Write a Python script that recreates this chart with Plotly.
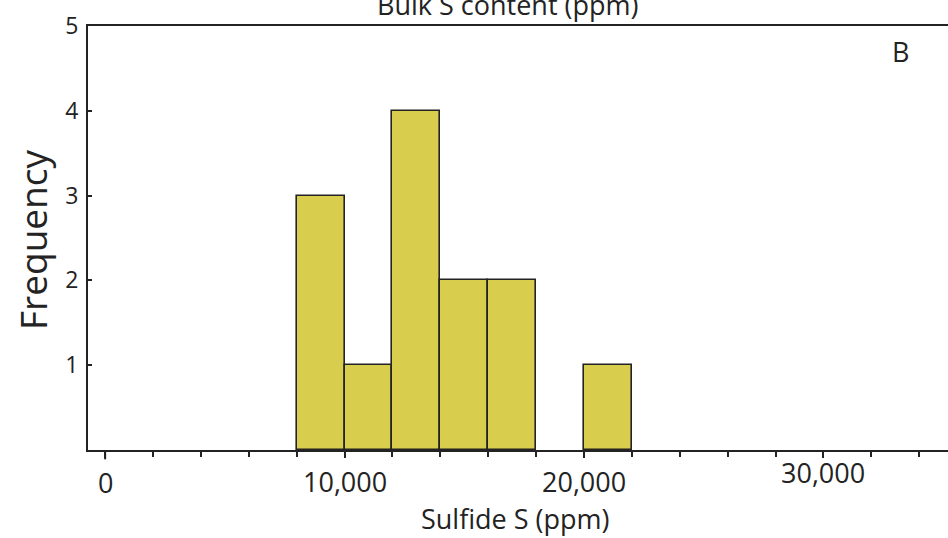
import plotly.graph_objects as go

# Histogram of sulfide S: bin left edges (ppm), bin width and counts
bin_left = [8000, 10000, 12000, 14000, 16000, 18000, 20000]
bin_width = 2000
counts = [3, 1, 4, 2, 2, 0, 1]

x_label_vals = [0, 10000, 20000, 30000]
x_label_text = ["0", "10,000", "20,000", "30,000"]
y_tick_vals = [1, 2, 3, 4, 5]

FONT = "Open Sans"
INK = "#232323"
BAR = "#d9cd4d"

centers = [b + bin_width / 2 for b in bin_left]
# empty bins get no outline
edge_widths = [1.6 if c > 0 else 0 for c in counts]

fig = go.Figure()
fig.add_trace(go.Bar(
    x=centers, y=counts, width=bin_width,
    marker=dict(color=BAR, line=dict(color=INK, width=edge_widths)),
    showlegend=False, hoverinfo="skip",
))

fig.update_layout(
    width=948, height=538,
    margin=dict(l=88, r=0, t=26, b=88),
    paper_bgcolor="white", plot_bgcolor="white",
    font=dict(family=FONT, color=INK),
    bargap=0,
    xaxis=dict(
        range=[-716, 35200],
        showline=True, linecolor=INK, linewidth=2, mirror=True,
        showgrid=False, zeroline=False,
        tickmode="array", tickvals=x_label_vals, ticktext=[""] * len(x_label_vals),
        ticks="outside", ticklen=6, tickwidth=1.5, tickcolor=INK,
        minor=dict(dtick=2000, tick0=0, ticks="outside", ticklen=5,
                   tickwidth=1.5, tickcolor=INK),
    ),
    yaxis=dict(
        range=[0, 5],
        showline=True, linecolor=INK, linewidth=2,
        showgrid=False, zeroline=False,
        tickmode="array", tickvals=y_tick_vals,
        ticks="inside", ticklen=4, tickwidth=1.5, tickcolor=INK,
        tickfont=dict(size=23, family=FONT, color=INK),
        ticklabelstandoff=3,
    ),
)

# x tick labels
label_shift = [-32, -31, -31, -22]
for v, t, dy in zip(x_label_vals, x_label_text, label_shift):
    fig.add_annotation(x=v, xref="x", y=0, yref="paper", yanchor="middle",
                       text=t, showarrow=False, yshift=dy,
                       font=dict(size=27, family=FONT, color=INK))

# longer tick at zero
fig.add_shape(type="line", xref="x", yref="paper", x0=0, x1=0,
              y0=0, y1=-0.022, line=dict(color=INK, width=2))

# axis titles and labels
fig.add_annotation(text="Sulfide S (ppm)", xref="paper", yref="paper",
                   x=(515 - 88) / 860, y=-(518 - 450) / 424, yanchor="middle",
                   showarrow=False, font=dict(size=27, family=FONT, color=INK))
fig.add_annotation(text="Frequency", xref="paper", yref="paper",
                   x=-(88 - 32) / 860, y=(450 - 240) / 424, textangle=-90,
                   xanchor="center", yanchor="middle",
                   showarrow=False, font=dict(size=37, family=FONT, color=INK))
fig.add_annotation(text="Bulk S content (ppm)", xref="paper", yref="paper",
                   x=(508 - 88) / 860, y=1 + 22 / 424, yanchor="middle",
                   showarrow=False, font=dict(size=27, family=FONT, color=INK))
fig.add_annotation(text="B", xref="paper", yref="paper",
                   x=(911 - 88) / 860, y=(450 - 51) / 424, yanchor="middle",
                   showarrow=False, font=dict(size=27, family=FONT, color=INK))

fig.write_html("out.html")
